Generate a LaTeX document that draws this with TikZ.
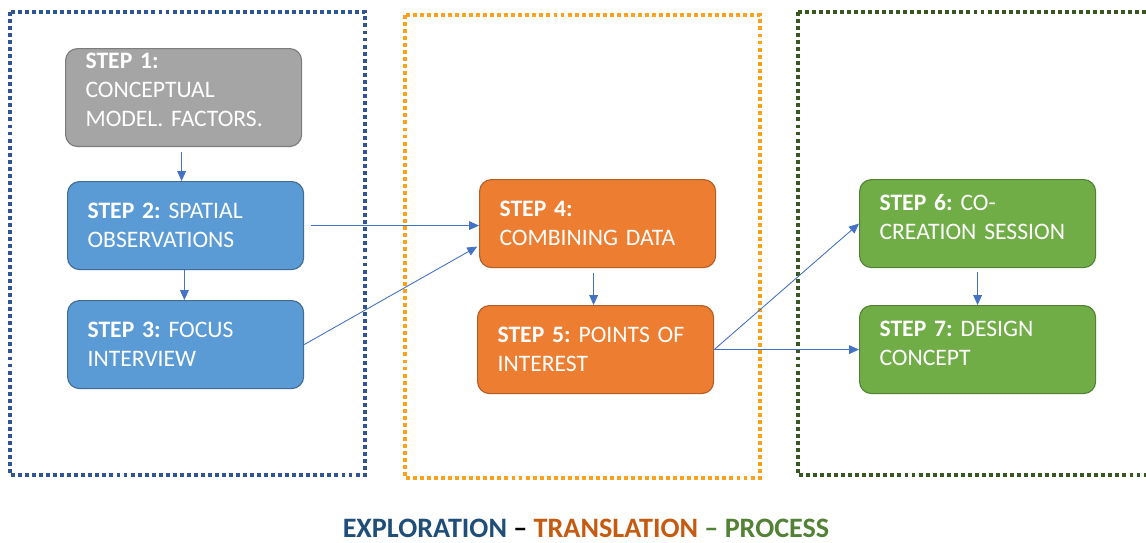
\documentclass[tikz,border=0pt]{standalone}
\usepackage{fontspec}
\setmainfont{Carlito}
\usetikzlibrary{arrows.meta}

\definecolor{frameblue}{HTML}{2F5597}
\definecolor{frameorange}{HTML}{FAA21B}
\definecolor{framegreen}{HTML}{385723}
\definecolor{greyfill}{HTML}{A5A5A5}
\definecolor{blueFill}{HTML}{5B9BD5}
\definecolor{orangeFill}{HTML}{ED7D31}
\definecolor{greenFill}{HTML}{70AD47}
\definecolor{arrowblue}{HTML}{4472C4}
\definecolor{capblue}{HTML}{1F4E79}
\definecolor{caporange}{HTML}{C55A11}
\definecolor{capgreen}{HTML}{538135}

\begin{document}
\frenchspacing
\begin{tikzpicture}[x=0.025cm, y=-0.025cm,
  stepbox/.style={draw, line width=0.8pt, rounded corners=0.3cm, text=white, align=left,
    anchor=north west, minimum height=2.2cm, text width=4.9cm, inner xsep=0.5cm,
    font=\fontsize{16.8}{20.6}\selectfont},
  lifted/.style={text depth=#1},
  frame/.style={line width=2.8pt, dash pattern=on 2.8pt off 2.2pt},
  flow/.style={-{Triangle[length=0.25cm,width=0.22cm]}, draw=arrowblue, fill=arrowblue, line width=0.6pt}]
\useasboundingbox (0,0) rectangle (1146,542);
\clip (0,0) rectangle (1146,542);
\fill[white] (0,0) rectangle (1146,542);
% dotted frames
\foreach \xa/\ya/\xb/\yb/\col in {10/12/365/475/frameblue, 405/15/760/478/frameorange, 798/12/1170/475/framegreen} {
\draw[frame, color=\col] (\xa,\ya) rectangle (\xb,\yb);
}
% steps
\node[stepbox, fill=greyfill, draw=greyfill!75!black, minimum height=2.42cm, lifted=52pt] (s1) at (65,48) {\textbf{STEP 1:}\\CONCEPTUAL\\MODEL. FACTORS.};
\node[stepbox, fill=blueFill, draw=blueFill!70!black] (s2) at (67,181) {\textbf{STEP 2:} SPATIAL\\OBSERVATIONS};
\node[stepbox, fill=blueFill, draw=blueFill!70!black] (s3) at (67,300) {\textbf{STEP 3:} FOCUS\\INTERVIEW};
\node[stepbox, fill=orangeFill, draw=orangeFill!75!black] (s4) at (479,179) {\textbf{STEP 4:}\\COMBINING DATA};
\node[stepbox, fill=orangeFill, draw=orangeFill!75!black] (s5) at (477,305) {\textbf{STEP 5:} POINTS OF\\INTEREST};
\node[stepbox, fill=greenFill, draw=greenFill!75!black, lifted=30pt] (s6) at (859,179) {\textbf{STEP 6:} CO-\\CREATION SESSION};
\node[stepbox, fill=greenFill, draw=greenFill!75!black, lifted=30pt] (s7) at (859,305) {\textbf{STEP 7:} DESIGN\\CONCEPT};
% connectors
\draw[flow, shorten <=0.12cm] ([xshift=-0.05cm]s1.south) -- ([xshift=-0.05cm]s1.south |- s2.north);
\draw[flow] ([xshift=-0.03cm]s2.south) -- ([xshift=-0.03cm]s2.south |- s3.north);
\draw[flow, shorten <=0.17cm] (s2.east) -- (s2.east -| s4.west);
\draw[flow, shorten >=0.05cm] (s3.east) -- ([yshift=-0.55cm]s4.west);
\draw[flow, shorten <=0.12cm] ([xshift=-0.1cm]s4.south) -- ([xshift=-0.1cm]s4.south |- s5.north);
\draw[flow] (s5.east) -- (s6.west);
\draw[flow] (s5.east) -- (s7.west);
\draw[flow, shorten <=0.1cm] (s6.south) -- (s6.south |- s7.north);
% caption
\node[font=\fontsize{20}{24}\selectfont\bfseries, inner sep=0pt, anchor=base] (caption) at (586,537)
  {\textcolor{capblue}{EXPLORATION} -- \textcolor{caporange}{TRANSLATION} \textcolor{capgreen}{-- PROCESS}};
\end{tikzpicture}
\end{document}
